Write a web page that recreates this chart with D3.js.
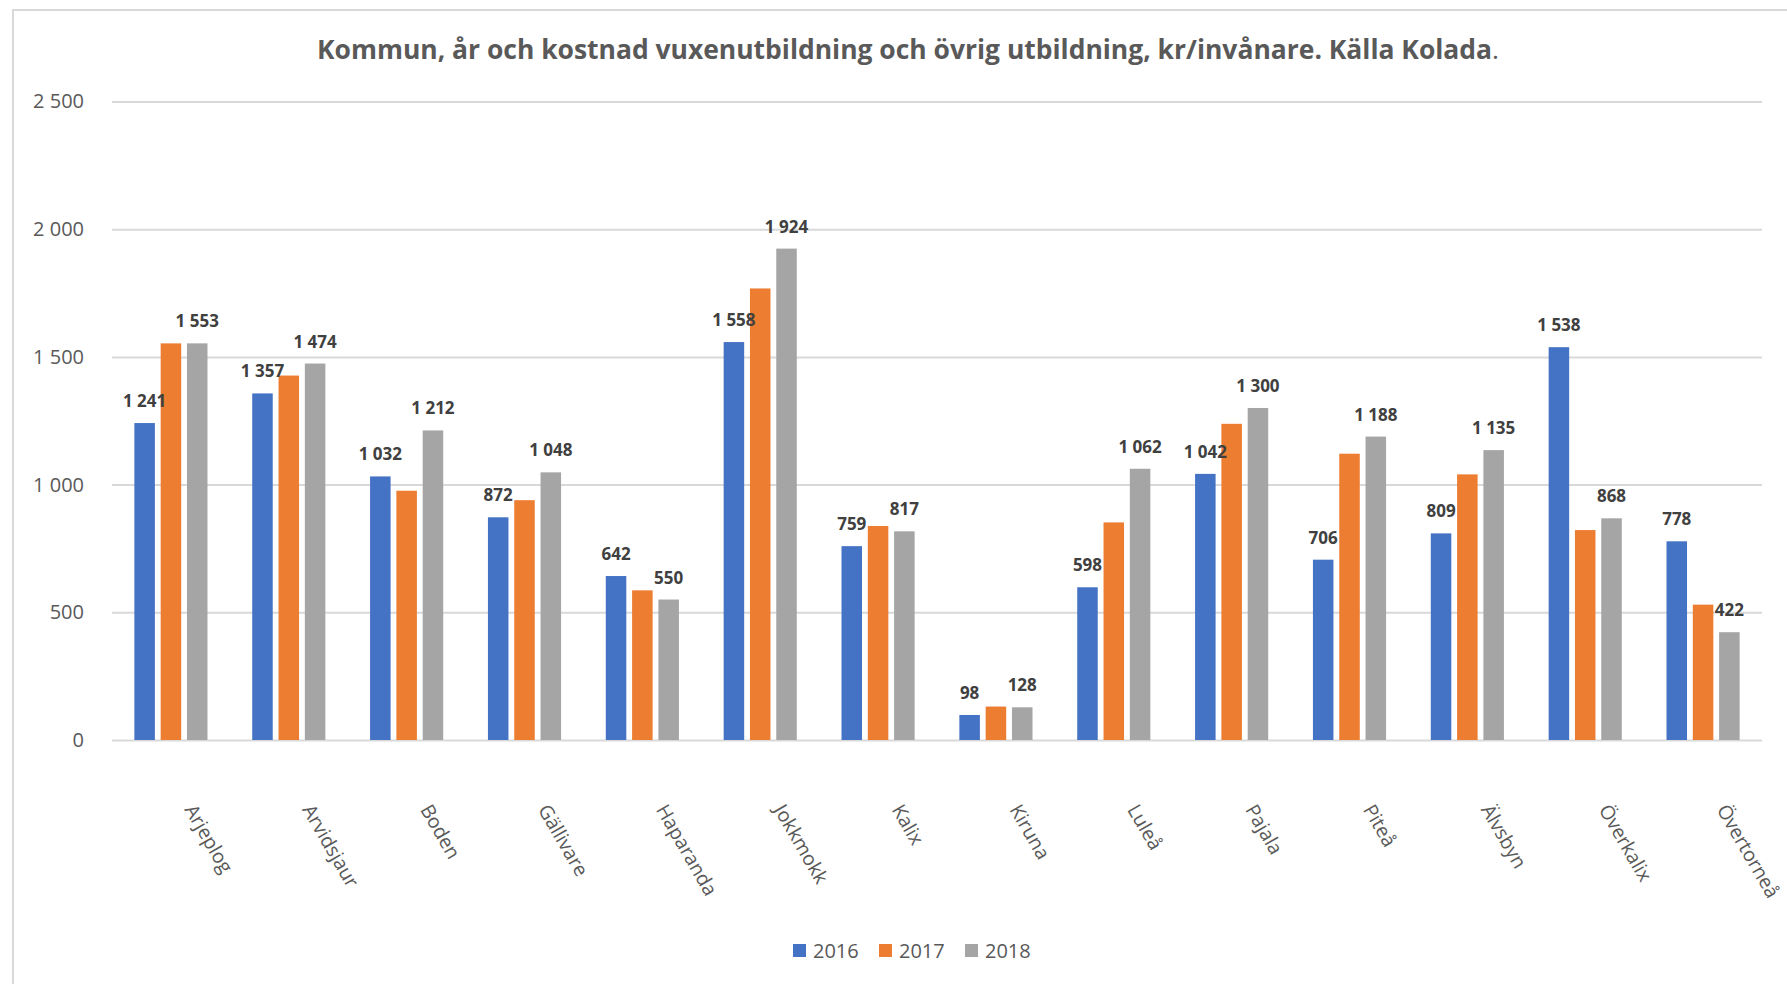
<!DOCTYPE html>
<html>
<head>
<meta charset="utf-8">
<script src="https://cdn.jsdelivr.net/npm/d3@7"></script>
<style>
  body { margin: 0; background: #fff; }
  text { font-family: 'Open Sans', 'DejaVu Sans', sans-serif; }
</style>
</head>
<body>
<div id="chart"></div>
<script>
const categories = ['Arjeplog', 'Arvidsjaur', 'Boden', 'Gällivare', 'Haparanda', 'Jokkmokk', 'Kalix',
  'Kiruna', 'Luleå', 'Pajala', 'Piteå', 'Älvsbyn', 'Överkalix', 'Övertorneå'];
const years = ['2016', '2017', '2018'];
const values2016 = [1241, 1357, 1032, 872, 642, 1558, 759, 98, 598, 1042, 706, 809, 1538, 778];
const values2017 = [1553, 1427, 976, 939, 586, 1768, 838, 131, 852, 1238, 1121, 1040, 822, 530];
const values2018 = [1553, 1474, 1212, 1048, 550, 1924, 817, 128, 1062, 1300, 1188, 1135, 868, 422];
const yTicks = [0, 500, 1000, 1500, 2000, 2500];
const yTickLabels = ['0', '500', '1 000', '1 500', '2 000', '2 500'];

const width = 1787;
const height = 984;
const margin = { top: 101.5, right: 25, bottom: 244, left: 112 };
const colors = ['#4472C4', '#ED7D31', '#A5A5A5'];
const showLabels = [true, false, true]; // 2017 has no data labels in the original

const series = [values2016, values2017, values2018];
const data = categories.map((c, i) => ({
  category: c,
  values: years.map((yr, j) => ({ year: yr, idx: j, value: series[j][i] }))
}));

const fmt = d3.formatLocale({ decimal: ',', thousands: '\u00a0', grouping: [3], currency: ['', ''] }).format(',');

const x = d3.scaleBand()
  .domain(categories)
  .range([margin.left, width - margin.right])
  .padding(0);

const x1 = d3.scaleBand()
  .domain(years)
  .range([0, x.bandwidth()])
  .paddingInner(0.22)
  .paddingOuter(0.85);

const y = d3.scaleLinear()
  .domain([0, 2500])
  .range([height - margin.bottom, margin.top]);

const svg = d3.select('#chart')
  .append('svg')
  .attr('width', width)
  .attr('height', height);

// chart frame
svg.append('rect')
  .attr('x', 13).attr('y', 10)
  .attr('width', width).attr('height', height)
  .attr('fill', 'none')
  .attr('stroke', '#d9d9d9')
  .attr('stroke-width', 2);

svg.append('text')
  .attr('x', 908)
  .attr('y', 59)
  .attr('text-anchor', 'middle')
  .attr('font-size', 26)
  .attr('font-weight', 'bold')
  .attr('fill', '#595959')
  .attr('textLength', 1182)
  .attr('lengthAdjust', 'spacingAndGlyphs')
  .text('Kommun, år och kostnad vuxenutbildning och övrig utbildning, kr/invånare. Källa Kolada')
  .append('tspan')
  .attr('font-weight', 'normal')
  .text('.');

const yAxis = (g) => g
  .attr('transform', `translate(${margin.left},0)`)
  .call(d3.axisLeft(y)
    .tickValues(yTicks)
    .tickFormat((d, i) => yTickLabels[i])
    .tickSize(-(width - margin.left - margin.right))
    .tickPadding(28))
  .call((g) => g.select('.domain').remove())
  .call((g) => g.selectAll('.tick line')
    .attr('stroke', '#d9d9d9')
    .attr('stroke-width', 2))
  .call((g) => g.selectAll('.tick text')
    .attr('font-family', "'Open Sans', sans-serif")
    .attr('font-size', 20)
    .attr('fill', '#595959'));

svg.append('g')
  .classed('y-axis', true)
  .call(yAxis);

const groups = svg.append('g')
  .selectAll('g')
  .data(data)
  .join('g')
  .attr('transform', (d) => `translate(${x(d.category)},0)`);

groups.selectAll('rect')
  .data((d) => d.values)
  .join('rect')
  .attr('x', (d) => x1(d.year))
  .attr('y', (d) => y(d.value))
  .attr('width', x1.bandwidth())
  .attr('height', (d) => y(0) - y(d.value))
  .attr('fill', (d) => colors[d.idx]);

groups.selectAll('text')
  .data((d) => d.values.filter((v) => showLabels[v.idx]))
  .join('text')
  .attr('x', (d) => x1(d.year) + x1.bandwidth() / 2)
  .attr('y', (d) => y(d.value) - 16)
  .attr('text-anchor', 'middle')
  .attr('font-size', 17)
  .attr('font-weight', 'bold')
  .attr('fill', '#404040')
  .text((d) => fmt(d.value));

// rotated category labels
svg.append('g')
  .selectAll('text')
  .data(categories)
  .join('text')
  .attr('transform', (d) => `translate(${x(d) + x.bandwidth() / 2 + 19},806) rotate(60)`)
  .attr('dy', '0.35em')
  .attr('font-size', 19.5)
  .attr('fill', '#595959')
  .text((d) => d);

// legend
const legend = svg.append('g')
  .selectAll('g')
  .data(years)
  .join('g')
  .attr('transform', (d, i) => `translate(${793 + i * 86},944)`);

legend.append('rect')
  .attr('width', 13)
  .attr('height', 13)
  .attr('fill', (d, i) => colors[i]);

legend.append('text')
  .attr('x', 20)
  .attr('y', 6.5)
  .attr('dy', '0.35em')
  .attr('font-size', 20)
  .attr('fill', '#595959')
  .text((d) => d);
</script>
</body>
</html>
